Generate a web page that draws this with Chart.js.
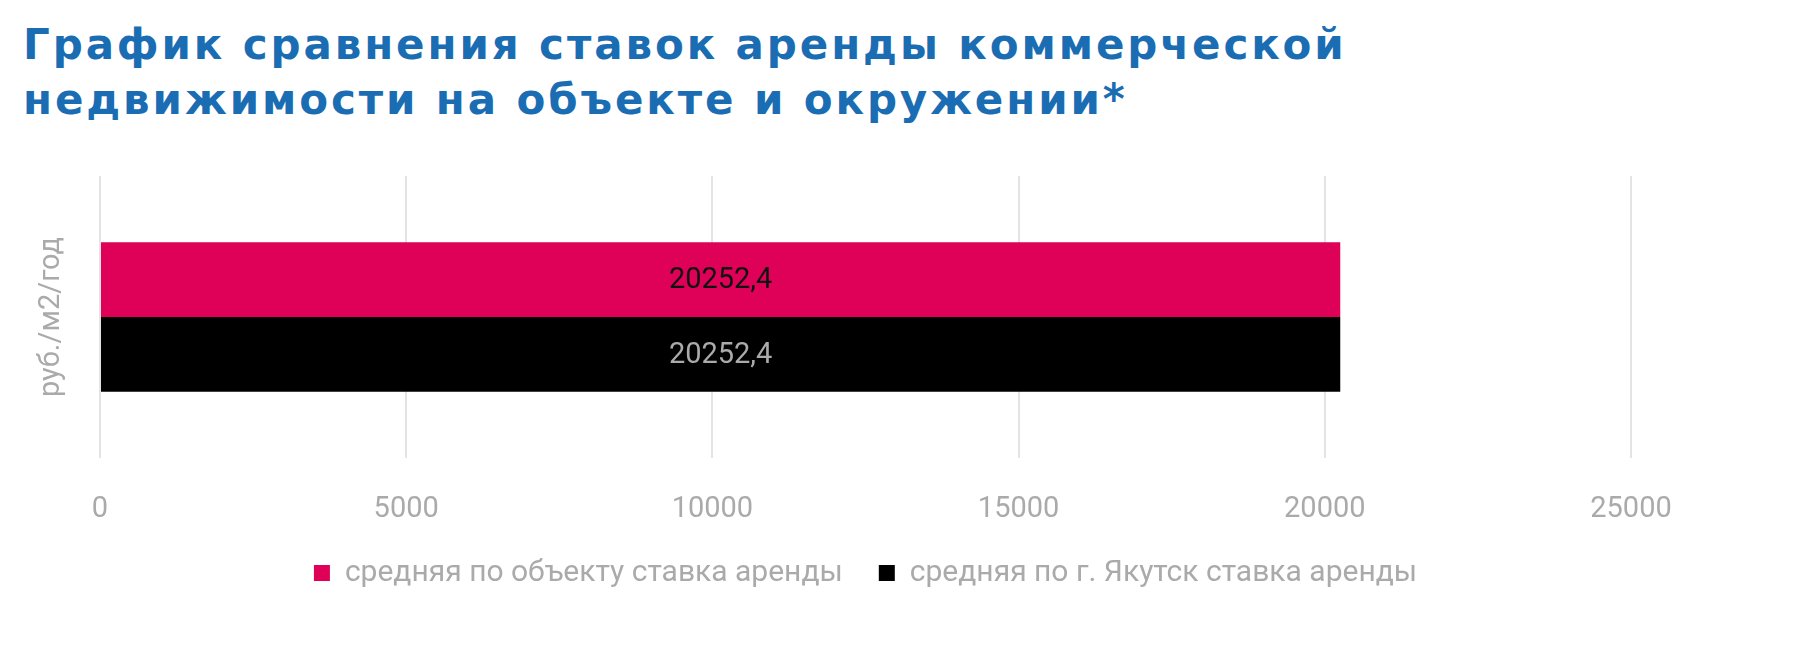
<!DOCTYPE html>
<html>
<head>
<meta charset="utf-8">
<script src="https://cdn.jsdelivr.net/npm/chart.js@4/dist/chart.umd.min.js"></script>
<style>
  html, body { margin: 0; padding: 0; background: #fff; }
  body { width: 1801px; height: 670px; position: relative; overflow: hidden; }
  #title {
    position: absolute; left: 23px; top: 17px;
    font-family: "DejaVu Sans", sans-serif; font-weight: bold;
    font-size: 42px; line-height: 55px; letter-spacing: 2.9px; color: #1b6db3;
  }
  #wrap { position: absolute; left: 0; top: 130px; width: 1801px; height: 540px; }
</style>
</head>
<body>
<div id="title">График сравнения ставок аренды коммерческой<br>недвижимости на объекте и окружении*</div>
<div id="wrap"><canvas id="rent-chart"></canvas></div>
<script>
// данные
var categories = ['']
var seriesNames = ['средняя по объекту ставка аренды', 'средняя по г. Якутск ставка аренды']
var objectRent = [20252.4]
var cityRent = [20252.4]
var xTicks = [0, 5000, 10000, 15000, 20000, 25000]
var yTitle = 'руб./м2/год'

var grey = '#aaaaaa'

// подписи значений на столбцах
var barLabels = {
  id: 'barLabels',
  afterDatasetsDraw: function (chart) {
    var ctx = chart.ctx
    var labelColors = ['#111111', grey]
    ctx.save()
    ctx.font = '29px Roboto'
    ctx.textAlign = 'center'
    ctx.textBaseline = 'middle'
    chart.data.datasets.forEach(function (ds, i) {
      chart.getDatasetMeta(i).data.forEach(function (bar, j) {
        ctx.fillStyle = labelColors[i]
        ctx.fillText(String(ds.data[j]).replace('.', ','), (bar.x + bar.base) / 2, bar.y + 1)
      })
    })
    ctx.restore()
  }
}

// подпись вертикальной оси
var axisTitle = {
  id: 'axisTitle',
  afterDraw: function (chart) {
    var ctx = chart.ctx
    var area = chart.chartArea
    ctx.save()
    ctx.translate(area.left - 48, (area.top + area.bottom) / 2)
    ctx.rotate(-Math.PI / 2)
    ctx.font = '29px Roboto'
    ctx.fillStyle = grey
    ctx.textAlign = 'center'
    ctx.textBaseline = 'middle'
    ctx.fillText(yTitle, 0, 0)
    ctx.restore()
  }
}

var ctx = document.getElementById('rent-chart').getContext('2d')

var rentChart = new Chart(ctx, {
  type: 'bar',
  data: {
    labels: categories,
    datasets: [
      {
        label: seriesNames[0],
        data: objectRent,
        backgroundColor: '#df0057'
      },
      {
        label: seriesNames[1],
        data: cityRent,
        backgroundColor: '#000000'
      }
    ]
  },
  options: {
    indexAxis: 'y',
    responsive: true,
    maintainAspectRatio: false,
    animation: false,
    categoryPercentage: 0.53,
    barPercentage: 1,
    layout: {
      padding: { left: 100, right: 170, top: 46, bottom: 72 }
    },
    plugins: {
      legend: {
        position: 'bottom',
        labels: {
          font: { family: 'Roboto', size: 30 },
          color: grey,
          boxWidth: 16,
          boxHeight: 16,
          padding: 36
        }
      },
      tooltip: { enabled: false }
    },
    scales: {
      x: {
        min: 0,
        max: 25000,
        afterBuildTicks: function (axis) {
          axis.ticks = xTicks.map(function (v) { return { value: v } })
        },
        afterFit: function (axis) { axis.height = 64 },
        grid: { color: '#e4e4e4', lineWidth: 2, drawTicks: false },
        border: { display: false },
        ticks: {
          font: { family: 'Roboto', size: 29 },
          color: grey,
          padding: 34,
          callback: function (v) { return String(v) }
        }
      },
      y: {
        afterFit: function (axis) { axis.width = 0 },
        grid: { display: false },
        border: { display: false },
        ticks: { display: false }
      }
    }
  },
  plugins: [barLabels, axisTitle]
})
</script>
</body>
</html>
